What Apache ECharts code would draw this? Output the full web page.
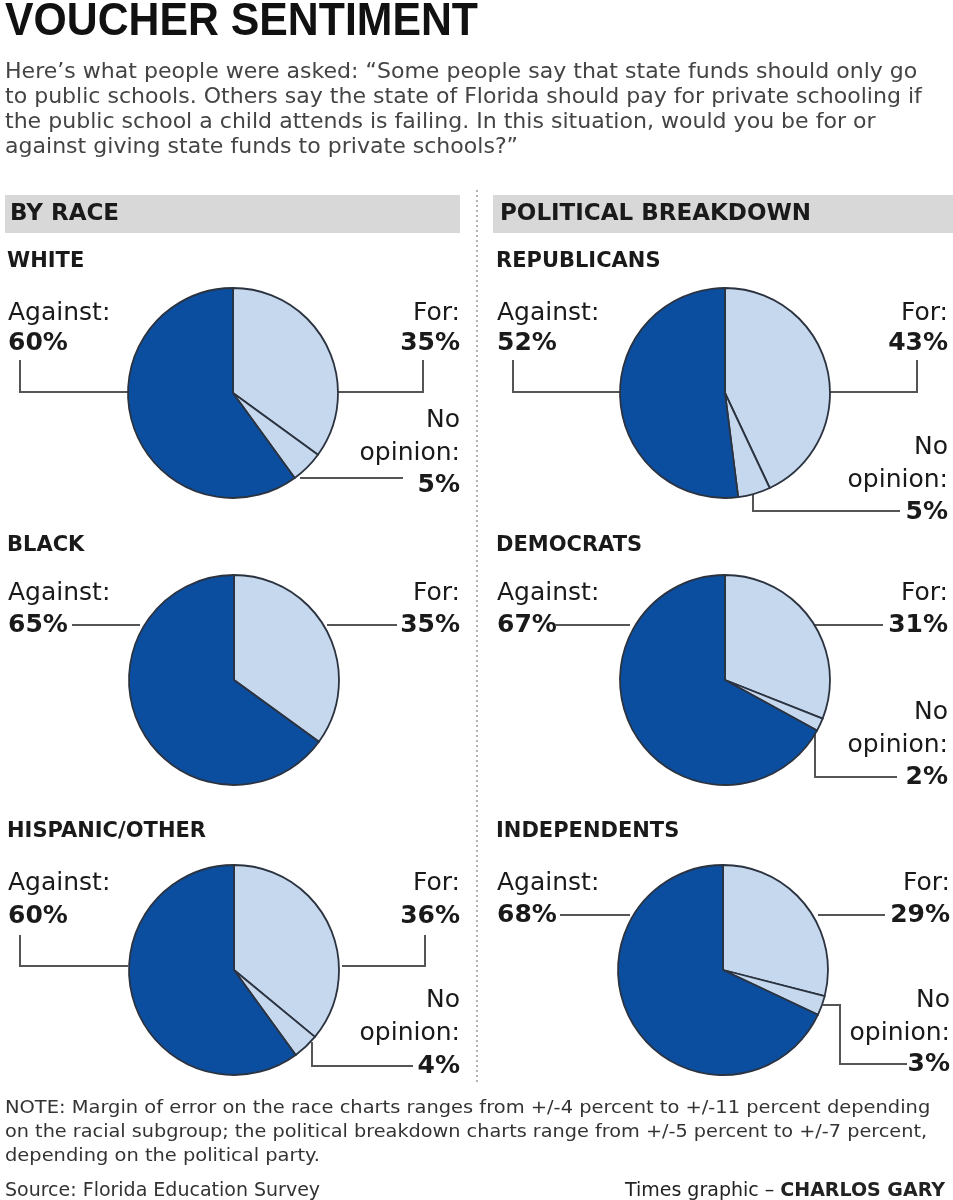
<!DOCTYPE html>
<html>
<head>
<meta charset="utf-8">
<script src="https://cdn.jsdelivr.net/npm/echarts@6/dist/echarts.min.js"></script>
<style>
  html, body { margin: 0; padding: 0; background: #ffffff; }
  #chart { width: 953px; height: 1200px; }
</style>
</head>
<body>
<div id="chart"></div>
<script>
const groups = ['WHITE', 'BLACK', 'HISPANIC/OTHER', 'REPUBLICANS', 'DEMOCRATS', 'INDEPENDENTS']
const forPct = [35, 35, 36, 43, 31, 29]
const noOpinionPct = [5, 0, 4, 5, 2, 3]
const againstPct = [60, 65, 60, 52, 67, 68]

const DARK = '#0b4ea0'
const LIGHT = '#c6d8ee'
const EDGE = '#2b3340'
const LINE = '#555555'
const FONT = '"DejaVu Sans", sans-serif'

// where each pie and its labels sit on the page
const layout = [
  { cx: 233, cy: 393, left: 8, right: 460, head: 262, top: [313, 343], no: [420, 453, 485],
    lines: [[[20, 360], [20, 392], [130, 392]], [[336, 392], [423, 392], [423, 360]], [[300, 478], [403, 478]]] },
  { cx: 234, cy: 680, left: 8, right: 460, head: 546, top: [593, 625], no: null,
    lines: [[[72, 625], [140, 625]], [[327, 625], [397, 625]]] },
  { cx: 234, cy: 970, left: 8, right: 460, head: 832, top: [883, 916], no: [1000, 1033, 1066],
    lines: [[[20, 935], [20, 966], [128, 966]], [[342, 966], [425, 966], [425, 935]], [[312, 1042], [312, 1066], [413, 1066]]] },
  { cx: 725, cy: 393, left: 497, right: 948, head: 262, top: [313, 343], no: [447, 480, 512],
    lines: [[[513, 360], [513, 392], [620, 392]], [[829, 392], [917, 392], [917, 360]], [[753, 494], [753, 511], [900, 511]]] },
  { cx: 725, cy: 680, left: 497, right: 948, head: 546, top: [593, 625], no: [712, 745, 777],
    lines: [[[555, 625], [630, 625]], [[813, 625], [883, 625]], [[815, 728], [815, 777], [897, 777]]] },
  { cx: 723, cy: 970, left: 497, right: 950, head: 832, top: [883, 915], no: [1000, 1033, 1064],
    lines: [[[560, 915], [630, 915]], [[818, 915], [885, 915]], [[823, 1005], [840, 1005], [840, 1064], [907, 1064]]] }
]

const text = (str, x, y, font, align, fill, sx) => ({
  type: 'text',
  silent: true,
  x, y,
  scaleX: sx || 1,
  style: {
    text: str, x: 0, y: 0, font,
    fill: fill || '#1a1a1a',
    align: align || 'left', textAlign: align || 'left',
    verticalAlign: 'middle', textVerticalAlign: 'middle'
  }
})

const poly = (points) => ({
  type: 'polyline',
  silent: true,
  shape: { points },
  style: { stroke: LINE, lineWidth: 2, fill: null }
})

const LABEL = '25px ' + FONT
const PCT = 'bold 25px ' + FONT
const HEAD = 'bold 21px ' + FONT
const BODY = '21px ' + FONT
const NOTE = '18px ' + FONT

const series = []
const graphic = [
  // title and question
  text('VOUCHER SENTIMENT', 5, 22, 'bold 46px "Liberation Sans", Arial, sans-serif', 'left', '#111', 0.93),
  text('Here\u2019s what people were asked: \u201cSome people say that state funds should only go', 5, 73, BODY, 'left', '#444', 1.05),
  text('to public schools. Others say the state of Florida should pay for private schooling if', 5, 98, BODY, 'left', '#444', 1.05),
  text('the public school a child attends is failing. In this situation, would you be for or', 5, 123, BODY, 'left', '#444', 1.05),
  text('against giving state funds to private schools?\u201d', 5, 148, BODY, 'left', '#444', 1.05),
  // section bands
  { type: 'rect', silent: true, shape: { x: 5, y: 195, width: 455, height: 38 }, style: { fill: '#d8d8d8' } },
  { type: 'rect', silent: true, shape: { x: 493, y: 195, width: 460, height: 38 }, style: { fill: '#d8d8d8' } },
  text('BY RACE', 10, 214, 'bold 23px ' + FONT),
  text('POLITICAL BREAKDOWN', 500, 214, 'bold 23px ' + FONT),
  { type: 'line', silent: true, shape: { x1: 477, y1: 190, x2: 477, y2: 1085 },
    style: { stroke: '#9a9a9a', lineWidth: 1.5, lineDash: [2, 3] } },
  // notes
  text('NOTE: Margin of error on the race charts ranges from +/-4 percent to +/-11 percent depending', 5, 1108, NOTE, 'left', '#333', 1.08),
  text('on the racial subgroup; the political breakdown charts range from +/-5 percent to +/-7 percent,', 5, 1132, NOTE, 'left', '#333', 1.07),
  text('depending on the political party.', 5, 1156, NOTE, 'left', '#333', 1.08),
  text('Source: Florida Education Survey', 5, 1191, '19px ' + FONT, 'left', '#333'),
  {
    type: 'text', silent: true,
    style: {
      text: '{a|Times graphic \u2013 }{b|CHARLOS GARY}', x: 945, y: 1191,
      align: 'right', textAlign: 'right', verticalAlign: 'middle', textVerticalAlign: 'middle',
      rich: {
        a: { font: '19px ' + FONT, fill: '#222' },
        b: { font: 'bold 19px ' + FONT, fill: '#222' }
      }
    }
  }
]

groups.forEach((name, i) => {
  const L = layout[i]
  const data = [
    { name: 'For', value: forPct[i], itemStyle: { color: LIGHT } },
    { name: 'No opinion', value: noOpinionPct[i], itemStyle: { color: LIGHT } },
    { name: 'Against', value: againstPct[i], itemStyle: { color: DARK } }
  ].filter((d) => d.value > 0)

  series.push({
    type: 'pie',
    name,
    center: [L.cx, L.cy],
    radius: [0, 105],
    startAngle: 90,
    clockwise: true,
    silent: true,
    animation: false,
    label: { show: false },
    labelLine: { show: false },
    itemStyle: { borderColor: EDGE, borderWidth: 1.8 },
    data
  })

  graphic.push(text(name, L.left - 1, L.head, HEAD))
  graphic.push(text('Against:', L.left, L.top[0], LABEL))
  graphic.push(text(againstPct[i] + '%', L.left, L.top[1], PCT))
  graphic.push(text('For:', L.right, L.top[0], LABEL, 'right'))
  graphic.push(text(forPct[i] + '%', L.right, L.top[1], PCT, 'right'))
  if (L.no && noOpinionPct[i] > 0) {
    graphic.push(text('No', L.right, L.no[0], LABEL, 'right'))
    graphic.push(text('opinion:', L.right, L.no[1], LABEL, 'right'))
    graphic.push(text(noOpinionPct[i] + '%', L.right, L.no[2], PCT, 'right'))
  }
  L.lines.forEach((pts) => graphic.push(poly(pts)))
})

const chart = echarts.init(document.getElementById('chart'), null, { renderer: 'canvas' })
chart.setOption({
  backgroundColor: '#ffffff',
  animation: false,
  series,
  graphic: { elements: graphic }
})
</script>
</body>
</html>
